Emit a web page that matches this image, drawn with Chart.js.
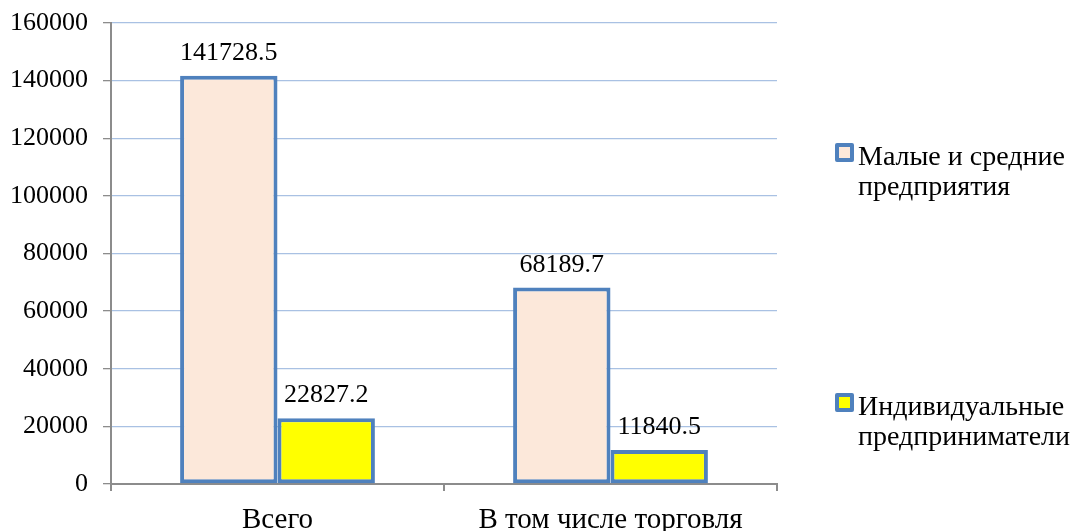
<!DOCTYPE html>
<html>
<head>
<meta charset="utf-8">
<script src="https://cdn.jsdelivr.net/npm/chart.js@4.4.1/dist/chart.umd.min.js"></script>
<style>
  html, body { margin: 0; padding: 0; background: #fff; }
  #wrap { position: relative; width: 1084px; height: 531px; }
  #legend { position: absolute; left: 833px; top: 0; font-family: "Liberation Serif", serif; font-size: 28px; color: #000; }
  .item { position: absolute; left: 0; width: 260px; line-height: 30px; }
  .sw { position: absolute; left: 2px; top: 2px; width: 11px; height: 11px; border: 4px solid #4F81BD; border-radius: 2px; }
  .txt { position: absolute; left: 25px; top: 0; white-space: nowrap; }
</style>
</head>
<body>
<div id="wrap">
  <canvas id="c" width="1084" height="531"></canvas>
  <div id="legend"></div>
</div>
<script>
const categories = ["Всего", "В том числе торговля"];
const seriesNames = [["Малые и средние", "предприятия"], ["Индивидуальные", "предприниматели"]];
const smallMedium = [141728.5, 68189.7];
const individual = [22827.2, 11840.5];
const yTicks = [0, 20000, 40000, 60000, 80000, 100000, 120000, 140000, 160000];

const FONT = "'Liberation Serif', serif";
const fills = ["#FCE8DA", "#FFFF00"];
const BLUE = "#4F81BD";

// HTML legend
const legend = document.getElementById('legend');
const legendTops = [141, 391];
seriesNames.forEach((lines, i) => {
  const d = document.createElement('div');
  d.className = 'item';
  d.style.top = legendTops[i] + 'px';
  d.innerHTML = '<div class="sw" style="background:' + fills[i] + '"></div><div class="txt">' + lines.join('<br>') + '</div>';
  legend.appendChild(d);
});

const dataLabels = {
  id: 'dataLabels',
  afterDatasetsDraw(chart) {
    const ctx = chart.ctx;
    ctx.save();
    ctx.font = "26px " + FONT;
    ctx.fillStyle = "#000";
    ctx.textAlign = 'center';
    ctx.textBaseline = 'alphabetic';
    chart.data.datasets.forEach((ds, di) => {
      const meta = chart.getDatasetMeta(di);
      meta.data.forEach((bar, i) => {
        ctx.fillText(ds.data[i].toFixed(1), bar.x, bar.y - 16);
      });
    });
    ctx.restore();
  }
};

function draw() {
  new Chart(document.getElementById('c'), {
    type: 'bar',
    data: {
      labels: categories,
      datasets: [
        { label: seriesNames[0].join(' '), data: smallMedium, backgroundColor: fills[0], borderColor: BLUE, borderWidth: 4, borderSkipped: false },
        { label: seriesNames[1].join(' '), data: individual, backgroundColor: fills[1], borderColor: BLUE, borderWidth: 4, borderSkipped: false }
      ]
    },
    options: {
      responsive: false,
      animation: false,
      layout: { padding: { left: 0, top: 23, right: 307, bottom: 0 } },
      datasets: { bar: { categoryPercentage: 0.585, barPercentage: 1.0 } },
      plugins: { legend: { display: false }, tooltip: { enabled: false } },
      scales: {
        x: {
          grid: { offset: true, drawOnChartArea: false, drawTicks: true, tickLength: 7, color: '#8C8C8C', tickColor: '#8C8C8C', lineWidth: 2 },
          border: { display: true, color: '#8C8C8C', width: 2 },
          ticks: { font: { family: FONT, size: 29 }, color: '#000', padding: 12 },
          afterFit(scale) { scale.height = 47; scale.paddingLeft = 0; scale.paddingRight = 0; }
        },
        y: {
          min: 0, max: 160000,
          afterBuildTicks(scale) { scale.ticks = yTicks.map(v => ({ value: v })); },
          grid: { color: '#A9C1E3', tickColor: '#8C8C8C', tickLength: 8, lineWidth: 1.3 },
          border: { display: true, color: '#8C8C8C', width: 2 },
          ticks: { font: { family: FONT, size: 26 }, color: '#000', padding: 15, callback: v => String(v) },
          afterFit(scale) { scale.width = 111; scale.paddingTop = 0; scale.paddingBottom = 0; }
        }
      }
    },
    plugins: [dataLabels]
  });
}
if (document.fonts && document.fonts.load) {
  Promise.all([document.fonts.load("26px 'Liberation Serif'"), document.fonts.load("29px 'Liberation Serif'")]).then(draw, draw);
} else { draw(); }
</script>
</body>
</html>
